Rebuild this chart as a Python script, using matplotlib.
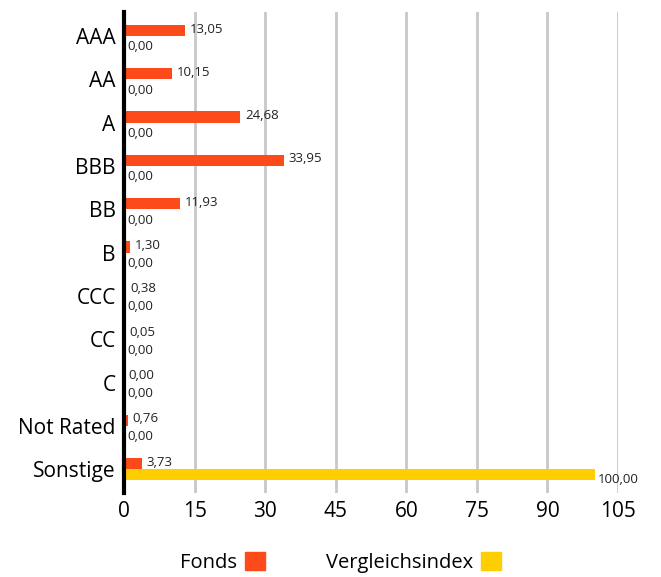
import matplotlib.pyplot as plt
import numpy as np
from matplotlib.patches import Patch

kategorien = ["AAA", "AA", "A", "BBB", "BB", "B", "CCC", "CC", "C", "Not Rated", "Sonstige"]
fonds = [13.05, 10.15, 24.68, 33.95, 11.93, 1.30, 0.38, 0.05, 0.00, 0.76, 3.73]
index = [0.00, 0.00, 0.00, 0.00, 0.00, 0.00, 0.00, 0.00, 0.00, 0.00, 100.00]
xticks = [0, 15, 30, 45, 60, 75, 90, 105]

farbe_fonds = "#FC4A1A"
farbe_index = "#FFCE00"

plt.rcParams['font.family'] = ['Open Sans', 'DejaVu Sans']

fig = plt.figure(figsize=(6.61, 5.77), dpi=100)
ax = fig.add_axes([0.1876, 0.1456, 0.935 - 0.1876, 0.979 - 0.1456])

y = np.arange(len(kategorien))
h = 0.26
ax.barh(y - h / 2, fonds, height=h, color=farbe_fonds, zorder=3)
ax.barh(y + h / 2, index, height=h, color=farbe_index, zorder=3)

def fmt(v):
    return f"{v:.2f}".replace(".", ",")

for i in range(len(kategorien)):
    ax.text(fonds[i] + 1.0, y[i] - h / 2 - 0.03, fmt(fonds[i]), fontsize=9.5,
            va="center", ha="left", color="#222222", zorder=4)
    ax.text(index[i] + 0.8, y[i] + h / 2 + 0.12, fmt(index[i]), fontsize=9.5,
            va="center", ha="left", color="#222222", zorder=4)

ax.set_xlim(0, 105)
ax.set_ylim(10.55, -0.55)
ax.set_xticks(xticks)
ax.set_xticklabels([str(t) for t in xticks], fontsize=15)
ax.set_yticks(y)
ax.set_yticklabels(kategorien, fontsize=15)
ax.tick_params(length=0, pad=6)
ax.tick_params(axis="x", pad=6)

ax.grid(axis="x", color="#c8c8c8", linewidth=2, zorder=0)
for s in ["top", "right", "bottom"]:
    ax.spines[s].set_visible(False)
ax.spines["left"].set_linewidth(3)
ax.spines["left"].set_color("black")
ax.spines["left"].set_zorder(5)

handles = [Patch(color=farbe_fonds, label="Fonds"), Patch(color=farbe_index, label="Vergleichsindex")]
fig.legend(handles=handles, loc="center", bbox_to_anchor=(0.515, 0.025), ncol=2,
           frameon=False, markerfirst=False, fontsize=14.5, handlelength=1.0,
           handleheight=1.0, columnspacing=3.0, handletextpad=0.4)

fig.savefig("out.png", dpi=100)
